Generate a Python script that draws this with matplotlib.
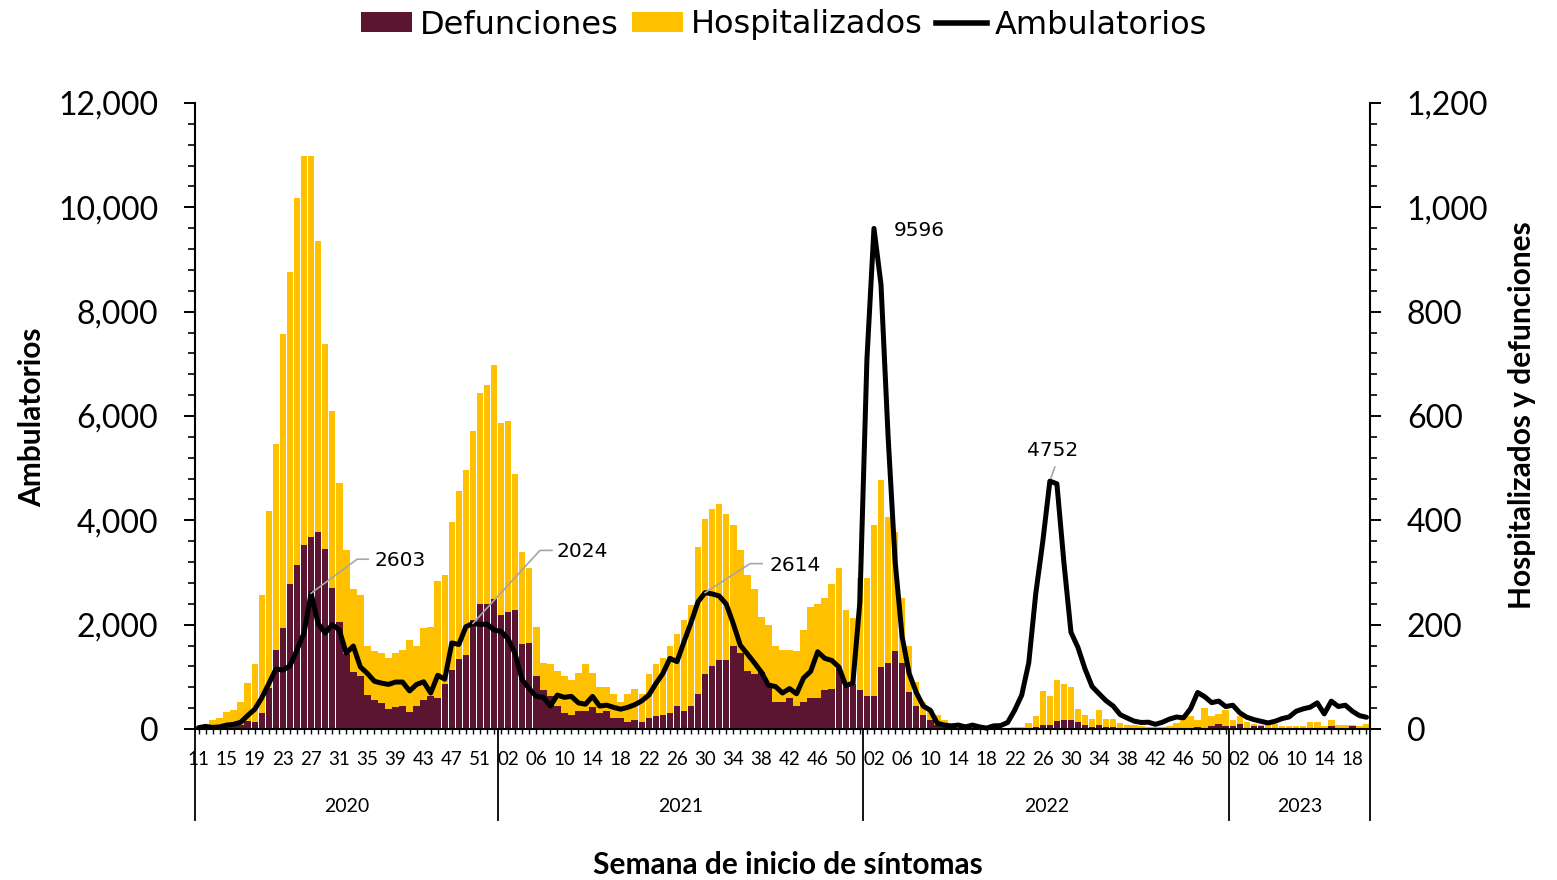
import matplotlib
matplotlib.use("Agg")
import numpy as np
import matplotlib.pyplot as plt
import matplotlib.transforms as mtransforms
from matplotlib.patches import Patch
from matplotlib.lines import Line2D
from matplotlib.ticker import MultipleLocator, FuncFormatter, FixedLocator

# ---------------- data ----------------
years = ["2020", "2021", "2022", "2023"]
weeks_2020 = list(range(11, 54))
weeks_2021 = list(range(1, 53))
weeks_2022 = list(range(1, 53))
weeks_2023 = list(range(1, 21))

hosp_2020 = [2, 4, 17, 21, 32, 36, 52, 89, 124, 256, 417, 547, 757, 876, 1017, 1098, 1099,
             936, 738, 609, 472, 343, 269, 256, 160, 150, 145, 137, 145, 152, 171, 160, 193,
             196, 284, 296, 396, 457, 496, 572, 645, 660, 697]
hosp_2021 = [587, 591, 488, 340, 308, 196, 126, 124, 112, 101, 93, 108, 124, 108, 81, 81, 68,
             52, 68, 76, 68, 105, 124, 137, 160, 183, 208, 237, 348, 403, 421, 432, 413, 392,
             344, 296, 268, 215, 200, 160, 152, 152, 150, 189, 233, 240, 252, 277, 308, 229,
             212, 289]
hosp_2022 = [289, 392, 477, 406, 377, 252, 160, 90, 52, 36, 26, 17, 8, 5, 3, 2, 2, 1, 1, 2, 2,
             4, 4, 12, 24, 72, 64, 93, 86, 81, 39, 27, 20, 36, 20, 20, 12, 7, 7, 5, 4, 3, 4, 5,
             12, 24, 24, 17, 40, 24, 28, 37]
hosp_2023 = [17, 24, 13, 10, 7, 10, 10, 5, 5, 5, 5, 13, 13, 5, 17, 8, 8, 8, 5, 9]

def_2020 = [0, 1, 2, 3, 3, 5, 7, 15, 13, 30, 78, 152, 193, 277, 314, 353, 369, 378, 346, 270,
            206, 143, 109, 101, 66, 55, 49, 38, 42, 45, 33, 45, 55, 63, 59, 86, 113, 134, 141,
            208, 240, 240, 250]
def_2021 = [219, 225, 229, 162, 164, 102, 74, 63, 45, 30, 26, 34, 34, 42, 30, 34, 22, 22, 13,
            17, 13, 22, 24, 26, 30, 45, 34, 45, 68, 105, 121, 133, 133, 160, 146, 111, 106, 109,
            88, 52, 52, 59, 44, 51, 59, 59, 74, 77, 119, 81, 86, 74]
def_2022 = [63, 63, 119, 126, 150, 126, 71, 44, 26, 17, 7, 4, 2, 1, 1, 1, 0, 0, 0, 0, 0, 1, 1,
            2, 3, 7, 7, 15, 18, 18, 13, 8, 4, 7, 3, 3, 2, 1, 1, 1, 1, 1, 1, 1, 2, 2, 2, 3, 2, 5,
            9, 5]
def_2023 = [5, 9, 2, 5, 5, 2, 2, 1, 1, 1, 1, 1, 1, 1, 5, 1, 1, 5, 1, 1]

amb_2020 = [25, 50, 30, 40, 75, 90, 130, 260, 380, 600, 870, 1150, 1130, 1210, 1520, 1840, 2603,
            2020, 1840, 2000, 1900, 1455, 1590, 1190, 1065, 915, 880, 855, 900, 900, 730, 855,
            905, 690, 1030, 955, 1650, 1620, 1960, 2024, 2005, 2010, 1900]
amb_2021 = [1870, 1730, 1440, 940, 775, 625, 607, 440, 650, 607, 625, 500, 475, 625, 440, 457,
            415, 380, 415, 465, 540, 650, 870, 1065, 1355, 1290, 1670, 2040, 2440, 2614, 2590,
            2550, 2395, 2020, 1605, 1440, 1270, 1090, 840, 815, 690, 775, 675, 980, 1105, 1480,
            1355, 1315, 1190, 830, 880, 2440]
amb_2022 = [7090, 9596, 8520, 5630, 3225, 1770, 1065, 705, 440, 360, 110, 75, 60, 75, 40, 75,
            40, 17, 60, 65, 125, 360, 650, 1270, 2600, 3600, 4752, 4700, 3185, 1855, 1560, 1150,
            815, 675, 540, 440, 275, 210, 150, 125, 130, 90, 130, 190, 230, 215, 390, 700, 620,
            505, 535, 430]
amb_2023 = [456, 309, 225, 180, 148, 116, 148, 199, 231, 340, 386, 418, 501, 289, 534, 431, 456,
            340, 257, 225]

# labelled peaks (year, week, value text)
peak_labels = [("2020", 27, "2603"), ("2020", 50, "2024"), ("2021", 30, "2614"),
               ("2022", 2, "9596"), ("2022", 27, "4752")]

series_labels = ["Defunciones", "Hospitalizados", "Ambulatorios"]

# ---------------- assemble ----------------
weeks_by_year = [weeks_2020, weeks_2021, weeks_2022, weeks_2023]
weeks = sum(weeks_by_year, [])
year_of = sum([[y] * len(w) for y, w in zip(years, weeks_by_year)], [])
hosp = np.array(hosp_2020 + hosp_2021 + hosp_2022 + hosp_2023, float)
defu = np.array(def_2020 + def_2021 + def_2022 + def_2023, float)
amb = np.array(amb_2020 + amb_2021 + amb_2022 + amb_2023, float)
n = len(weeks)
x = np.arange(n)

MAROON = "#5B1530"
GOLD = "#FFC000"

plt.rcParams["font.family"] = ["Lato", "DejaVu Sans"]

fig = plt.figure(figsize=(15.57, 8.80), dpi=100)
W, H = 1557, 880
L, R, T, B = 195, 1370, 103, 729
ax = fig.add_axes([L / W, 1 - B / H, (R - L) / W, (B - T) / H])
ax2 = ax.twinx()
ax.set_zorder(ax2.get_zorder() + 1)
ax.patch.set_visible(False)

# bars on the right axis
ax2.bar(x, hosp, width=0.93, color=GOLD, linewidth=0, zorder=1)
ax2.bar(x, defu, width=0.93, color=MAROON, linewidth=0, zorder=2)
ax2.set_ylim(0, 1200)

# line on left axis
ax.plot(x, amb, color="black", lw=3.6, solid_joinstyle="round", solid_capstyle="round",
        zorder=3, clip_on=False)
ax.set_ylim(0, 12000)
ax.set_xlim(-0.5, n - 0.5)

fmt = FuncFormatter(lambda v, p: f"{v:,.0f}")
ax.yaxis.set_major_locator(MultipleLocator(2000))
ax.yaxis.set_minor_locator(MultipleLocator(400))
ax.yaxis.set_major_formatter(fmt)
ax2.yaxis.set_major_locator(MultipleLocator(200))
ax2.yaxis.set_minor_locator(MultipleLocator(40))
ax2.yaxis.set_major_formatter(fmt)

for a in (ax, ax2):
    a.tick_params(axis="y", which="major", length=8, width=1.4, direction="out",
                  pad=18.5, labelsize=23)
    a.tick_params(axis="y", which="minor", length=5, width=1.2, direction="out")
    for s in a.spines.values():
        s.set_linewidth(1.5)
    a.spines["top"].set_visible(False)
ax.spines["right"].set_visible(False)
ax2.spines["left"].set_visible(False)
ax2.spines["bottom"].set_visible(False)

# x ticks
label_pos = [i for i in range(n) if i % 4 == 0]
ax.xaxis.set_major_locator(FixedLocator(label_pos))
ax.xaxis.set_minor_locator(FixedLocator(list(x)))
ax.set_xticklabels([f"{weeks[i]:02d}" for i in label_pos])
ax.tick_params(axis="x", which="both", length=3.5, width=1.0, direction="out",
               pad=12, labelsize=13.5)

# year separators and labels
bounds = np.cumsum([0] + [len(w) for w in weeks_by_year]) - 0.5
blend = mtransforms.blended_transform_factory(ax.transData, ax.transAxes)
for b in bounds:
    ax.plot([b, b], [0, -(820 - B) / (B - T)], color="black", lw=1.3,
            transform=blend, clip_on=False, zorder=5)
for yr, b0, b1 in zip(years, bounds[:-1], bounds[1:]):
    ax.text((b0 + b1) / 2, -(806 - B) / (B - T), yr, transform=blend,
            ha="center", va="center", fontsize=14)

# axis titles
fig.text(32 / W, 1 - 417 / H, "Ambulatorios", rotation=90, ha="center", va="center",
         fontsize=21.5, fontweight="bold")
fig.text(1522 / W, 1 - 415 / H, "Hospitalizados y defunciones", rotation=90, ha="center",
         va="center", fontsize=21.5, fontweight="bold")
fig.text(788 / W, 1 - 865 / H, "Semana de inicio de síntomas", ha="center", va="center",
         fontsize=21.5, fontweight="bold")

# peak labels with leader lines (offsets in pixels)
layout = {
    "2603": dict(leader=[(0, 0), (46, 34), (57, 34)], text=(63, 33), ha="left"),
    "2024": dict(leader=[(0, 0), (67, 73), (79, 73)], text=(84, 72), ha="left"),
    "2614": dict(leader=[(0, 0), (45, 29), (57, 29)], text=(64, 27), ha="left"),
    "9596": dict(leader=None, text=(20, -2), ha="left"),
    "4752": dict(leader=[(1, 3), (5, 14)], text=(3, 31), ha="center"),
}
for yr, wk, txt in peak_labels:
    idx = [i for i in range(n) if year_of[i] == yr and weeks[i] == wk][0]
    tr = fig.dpi_scale_trans + mtransforms.ScaledTranslation(idx, amb[idx], ax.transData)
    lay = layout[txt]
    if lay["leader"]:
        pts = np.array(lay["leader"], float) / fig.dpi
        ax.add_line(Line2D(pts[:, 0], pts[:, 1], transform=tr, color="#A6A6A6",
                           lw=1.2, clip_on=False, zorder=4))
    tx, ty = lay["text"]
    ax.text(tx / fig.dpi, ty / fig.dpi, txt, transform=tr, ha=lay["ha"], va="center",
            fontsize=14.5, family="DejaVu Sans", zorder=6)

# legend
handles = [Patch(facecolor=MAROON, edgecolor="none"),
           Patch(facecolor=GOLD, edgecolor="none"),
           Line2D([], [], color="black", lw=4)]
leg = fig.legend(handles, series_labels, loc="center", bbox_to_anchor=(784 / W, 1 - 25 / H),
                 ncol=3, frameon=False, prop={"family": "DejaVu Sans", "size": 23},
                 handlelength=1.6, handleheight=0.6, handletextpad=0.25, columnspacing=0.4,
                 borderpad=0, borderaxespad=0)

fig.savefig("out.png", dpi=100, facecolor="white")
